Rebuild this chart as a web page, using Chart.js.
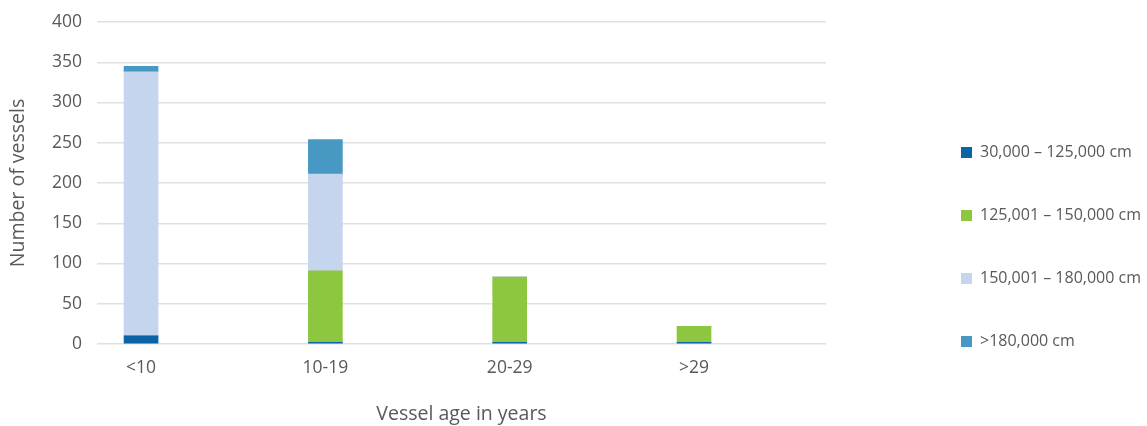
<!DOCTYPE html>
<html>
<head>
<meta charset="utf-8">
<script src="https://cdn.jsdelivr.net/npm/chart.js@4"></script>
<style>
  html, body { margin: 0; padding: 0; background: #fff; }
  #wrap { width: 1147px; height: 426px; }
</style>
</head>
<body>
<div id="wrap"><canvas id="vesselChart"></canvas></div>
<script>
const AGE_GROUPS = ["<10", "10-19", "20-29", ">29"];
const SIZE_LABELS = ["30,000 – 125,000 cm", "125,001 – 150,000 cm", "150,001 – 180,000 cm", ">180,000 cm"];
const SIZE_COLORS = ["#0a64a6", "#8dc63f", "#c6d5ee", "#4799c4"];

const SMALL = [10, 2, 2, 2];
const MEDIUM = [0, 89, 81, 20];
const LARGE = [328, 120, 0, 0];
const XLARGE = [7, 43, 0, 0];

const Y_TICKS = [0, 50, 100, 150, 200, 250, 300, 350, 400];

const TEXT = "#595959";
const FONT = "'Open Sans', sans-serif";

function toPoints(values) {
  return values.map((v, i) => ({ x: i, y: v }));
}

// legend sits far right of the plot, pushed down a bit
const legendPlace = {
  id: "legendPlace",
  beforeLayout(chart) {
    const lg = chart.legend;
    if (!lg || lg._placed) return;
    const fit = lg.fit;
    lg.fit = function () {
      fit.call(this);
      this.width = 321;
    };
    lg._placed = true;
  },
  afterLayout(chart) {
    const lg = chart.legend;
    if (!lg) return;
    const pad = lg.options.labels.padding;
    lg.left = 961 - pad;
    lg.right = 1147;
    lg.top = 68;
    lg.bottom = 426;
  },
};

const ctx = document.getElementById("vesselChart").getContext("2d");
new Chart(ctx, {
  type: "bar",
  data: {
    datasets: [SMALL, MEDIUM, LARGE, XLARGE].map((vals, i) => ({
      label: SIZE_LABELS[i],
      data: toPoints(vals),
      backgroundColor: SIZE_COLORS[i],
      borderWidth: 0,
      barThickness: 34,
    })),
  },
  options: {
    responsive: true,
    maintainAspectRatio: false,
    animation: false,
    layout: { padding: { top: 22, right: 0, bottom: 0, left: 0 } },
    plugins: {
      legend: {
        position: "right",
        align: "center",
        labels: {
          boxWidth: 11,
          boxHeight: 11,
          padding: 47,
          color: TEXT,
          font: { family: FONT, size: 16 },
        },
      },
      tooltip: { enabled: false },
    },
    scales: {
      x: {
        type: "linear",
        stacked: true,
        offset: false,
        min: -0.239,
        max: 3.716,
        afterBuildTicks: (scale) => {
          scale.ticks = AGE_GROUPS.map((_, i) => ({ value: i }));
        },
        afterFit: (scale) => {
          scale.height = 82;
        },
        grid: { display: false, drawTicks: false },
        border: { display: false },
        ticks: {
          padding: 14,
          color: TEXT,
          font: { family: FONT, size: 17.5 },
          callback: (v) => AGE_GROUPS[v] ?? "",
        },
        title: {
          display: true,
          text: "Vessel age in years",
          color: TEXT,
          font: { family: FONT, size: 19.5 },
          padding: { top: 0, bottom: 0 },
        },
      },
      y: {
        stacked: true,
        min: 0,
        max: 400,
        afterBuildTicks: (scale) => {
          scale.ticks = Y_TICKS.map((v) => ({ value: v }));
        },
        afterFit: (scale) => {
          scale.width = 97;
          scale.paddingTop = 0;
          scale.paddingBottom = 0;
        },
        grid: { color: "#e0e0e0", lineWidth: 1.5, drawTicks: false },
        border: { display: false },
        ticks: {
          padding: 15,
          color: TEXT,
          font: { family: FONT, size: 17.5 },
        },
        title: {
          display: true,
          text: "Number of vessels",
          color: TEXT,
          font: { family: FONT, size: 19.5 },
          padding: { top: 7, bottom: 0 },
        },
      },
    },
  },
  plugins: [legendPlace],
});
</script>
</body>
</html>
